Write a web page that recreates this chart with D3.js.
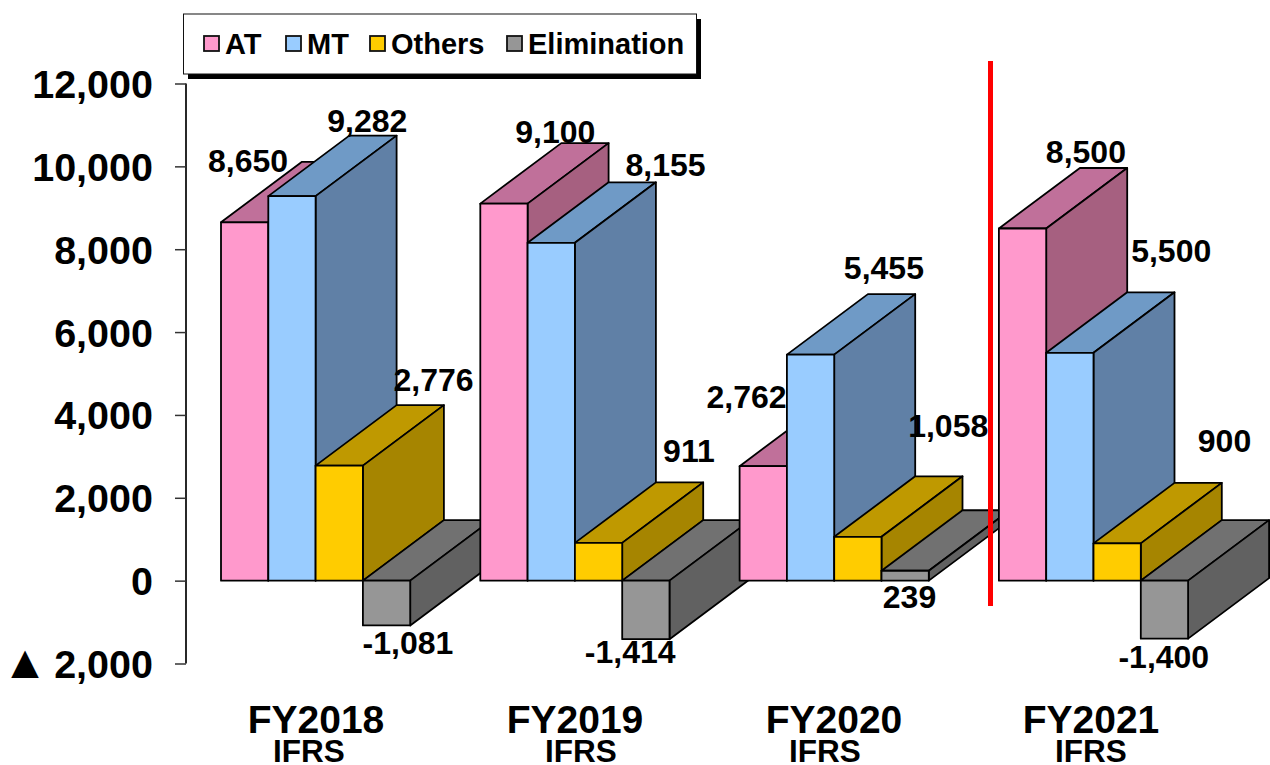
<!DOCTYPE html>
<html><head><meta charset="utf-8">
<script src="https://cdn.jsdelivr.net/npm/d3@7/dist/d3.min.js"></script>
<style>
html,body{margin:0;padding:0;background:#fff}
svg{display:block}
text{font-family:"Liberation Sans",Arial,sans-serif;font-weight:bold;fill:#000}
</style></head><body>
<svg id="chart" width="1270" height="765"></svg>
<script>
const years = ["FY2018","FY2019","FY2020","FY2021"];
const basis = ["IFRS","IFRS","IFRS","IFRS"];
const seriesNames = ["AT","MT","Others","Elimination"];
const atValues = [8650,9100,2762,8500];
const mtValues = [9282,8155,5455,5500];
const othersValues = [2776,911,1058,900];
const eliminationValues = [-1081,-1414,239,-1400];
const yTicks = [12000,10000,8000,6000,4000,2000,0,-2000];

// layout, styles
const front = ["#FF99CC","#99CCFF","#FFCC00","#969696"];
const topFace = ["#C0709A","#6F9AC6","#BF9900","#717171"];
const sideFace = ["#A66080","#6080A6","#A68500","#616161"];
const depthX = 81, depthY = -60.5;
const svg = d3.select("#chart");
const y = d3.scaleLinear().domain([-2000,12000]).range([663.5,83.5]);
const zeroY = y(0);
const x0 = d3.scaleBand().domain(years).range([221,221+259.3*4]);
const x1 = d3.scaleBand().domain(seriesNames).range([0,189.2]);
const seriesValues = [atValues,mtValues,othersValues,eliminationValues];
const fmt = v => (v<0 ? "-" : "") + d3.format(",")(Math.abs(v));

// label anchors given as dx from the bar's left edge and dy from the value level
const nudges = [
 [[27,-50],[99,-64],[118,-75],[45,29]],
 [[75,-61],[138,-67],[114,-81],[8,24]],
 [[7,-58],[97,-76],[114,-100],[28,37]],
 [[87,-66],[125,-91],[131,-91],[23,29]]
];

const axis = d3.axisLeft(y).tickValues(yTicks).tickSize(11).tickFormat(d => fmt(Math.abs(d)));
const ag = svg.append("g").attr("transform","translate(186,0)").call(axis);
ag.select(".domain").attr("stroke","#111").attr("stroke-width",1.8).attr("d",`M0,${y(12000)}V${y(-2000)}`);
ag.selectAll(".tick line").attr("stroke","#333").attr("stroke-width",1.5);
ag.selectAll(".tick text").attr("x",-33).attr("dy",null).attr("y",14)
  .attr("text-anchor","end").style("font-size","39.5px")
  .style("font-family",'"Liberation Sans",Arial,sans-serif').style("font-weight","bold");
ag.selectAll(".tick text").filter(d => d < 0).each(function(d){
  const t = d3.select(this), s = t.text();
  t.text(null);
  t.append("tspan").style("font-size","47px").text("▲");
  t.append("tspan").attr("dx",-5).text(" " + s);
});

const poly = (g,pts,fill)=>g.append("polygon").attr("points",pts.map(p=>p.join(",")).join(" "))
  .attr("fill",fill).attr("stroke","#000").attr("stroke-width",1.8).attr("stroke-linejoin","round");

years.forEach((yr,i)=>{
  const g = svg.append("g");
  seriesNames.forEach((s,j)=>{
    const v = seriesValues[j][i];
    const L = x0(yr)+x1(s), R = L+x1.bandwidth();
    const T = Math.min(y(v),zeroY), B = Math.max(y(v),zeroY);
    const top = v<0 ? zeroY : T;
    poly(g,[[L,top],[L+depthX,top+depthY],[R+depthX,top+depthY],[R,top]],topFace[j]);
    poly(g,[[R,T],[R+depthX,T+depthY],[R+depthX,B+depthY],[R,B]],sideFace[j]);
    poly(g,[[L,T],[R,T],[R,B],[L,B]],front[j]);
  });
});

// data labels
years.forEach((yr,i)=>{
  seriesNames.forEach((s,j)=>{
    const v = seriesValues[j][i];
    const n = nudges[i][j];
    svg.append("text").attr("x",x0(yr)+x1(s)+n[0]).attr("y",y(v)+n[1])
      .attr("text-anchor","middle").style("font-size","32px").text(fmt(v));
  });
});

// category labels
const yearCx = [316,575,834,1091], basisCx = [309,581,825,1091];
years.forEach((yr,i)=>{
  svg.append("text").attr("x",yearCx[i]).attr("y",733).attr("text-anchor","middle").style("font-size","39px").text(yr);
  svg.append("text").attr("x",basisCx[i]).attr("y",762).attr("text-anchor","middle").style("font-size","31.5px").text(basis[i]);
});

// red divider
svg.append("line").attr("x1",990.5).attr("x2",990.5).attr("y1",61).attr("y2",606).attr("stroke","#FF0000").attr("stroke-width",5);

// legend
svg.append("rect").attr("x",188).attr("y",19).attr("width",513).attr("height",60).attr("fill","#000");
svg.append("rect").attr("x",183.5).attr("y",14).attr("width",513).attr("height",60).attr("fill","#fff").attr("stroke","#111").attr("stroke-width",1);
const swX = [204,286,370,507];
seriesNames.forEach((s,j)=>{
  svg.append("rect").attr("x",swX[j]).attr("y",36).attr("width",15).attr("height",15).attr("fill",front[j]).attr("stroke","#111").attr("stroke-width",1.8);
  svg.append("text").attr("x",swX[j]+21).attr("y",54).style("font-size","29px").text(s);
});
</script>
</body></html>
